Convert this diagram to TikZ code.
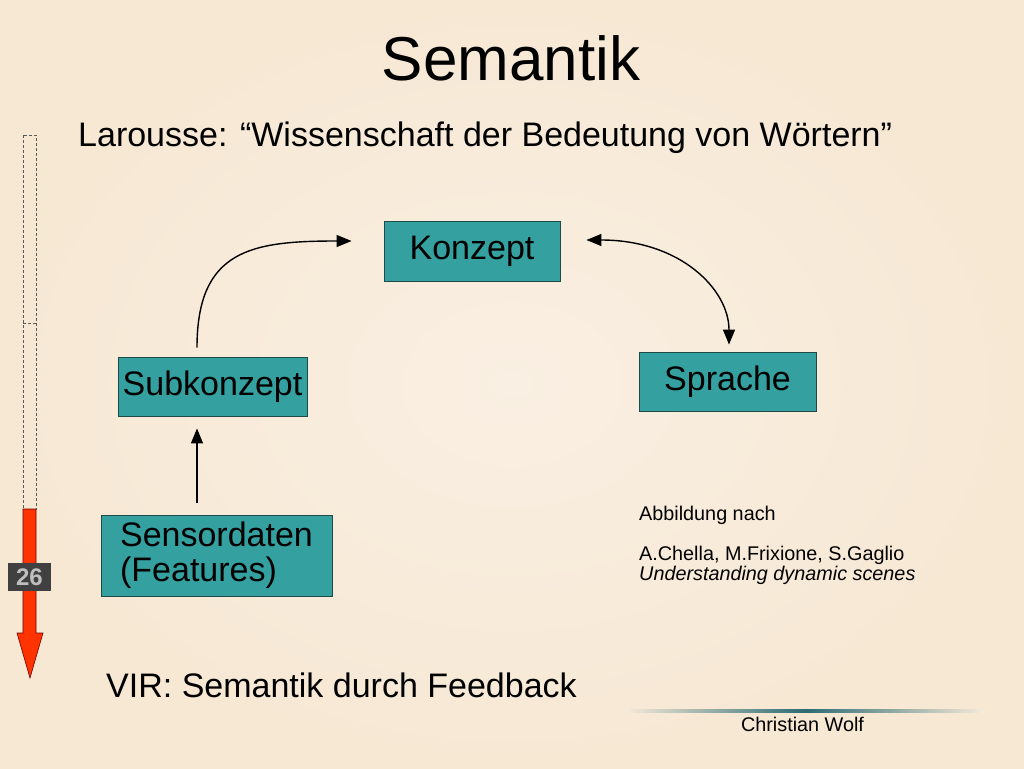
\documentclass[tikz,border=0pt]{standalone}
\usepackage{fontspec}
\setmainfont{Liberation Sans}
\usetikzlibrary{arrows.meta}
\definecolor{bgin}{HTML}{F9EFE2}
\definecolor{bgout}{HTML}{F7E8D4}
\definecolor{bg}{HTML}{F8EBD9}
\definecolor{boxfill}{HTML}{35A0A0}
\definecolor{boxline}{HTML}{1E4A4A}
\definecolor{redarrow}{HTML}{FF3300}
\definecolor{linecol}{HTML}{2C6B72}
\begin{document}
\begin{tikzpicture}[x=1pt,y=-1pt,
  box/.style={draw=boxline, line width=0.9pt, fill=boxfill, inner sep=0pt, text=black,
    font=\fontsize{34}{35}\selectfont},
  conn/.style={line width=1.4pt, -{Triangle[length=15pt,width=12pt]}},
  conn2/.style={line width=1.4pt, {Triangle[length=15pt,width=12pt]}-{Triangle[length=15pt,width=12pt]}},
  bigtext/.style={anchor=base west, inner sep=0pt, font=\fontsize{34}{34}\selectfont},
  smalltext/.style={anchor=base west, inner sep=0pt, font=\fontsize{19.8}{20}\selectfont},
  barline/.style={draw=black!65, line width=0.6pt, dash pattern=on 3pt off 2pt}
]
\useasboundingbox (0,0) rectangle (1024,768);
\shade[inner color=bgin, outer color=bgout] (0,0) rectangle (1024,768);

% title and headings
\node[anchor=base, inner sep=0pt, font=\fontsize{62}{62}\selectfont] (title) at (511,80) {Semantik};
\node[bigtext] (larousse) at (78,146) {Larousse: “Wissenschaft der Bedeutung von Wörtern”};
\node[bigtext] (vir) at (106,697) {VIR: Semantik durch Feedback};

% boxes
\node[box, minimum width=176, minimum height=60] (konzept) at (472,251) {Konzept};
\node[box, minimum width=189, minimum height=59] (sub) at (212.5,386.5) {Subkonzept};
\node[box, minimum width=177, minimum height=59] (sprache) at (727.5,381.5) {Sprache};
\node[box, minimum width=231, minimum height=81, align=left] (sens) at (216.5,555.5) {Sensordaten\\(Features)};

% connectors
\draw[conn] ([shift={(-15.5,-9)}]sub.north) .. controls +(0,-98) and +(-100,0) .. ([shift={(-32,-10)}]konzept.west);
\draw[conn2] ([shift={(26,-11)}]konzept.east) .. controls +(94,0) and +(0,-55) .. ([shift={(1.5,-7)}]sprache.north);
\draw[conn] ([shift={(-19.5,-12)}]sens.north) -- ([shift={(-15.5,12)}]sub.south);

% reference text
\node[smalltext] (abb) at (639,520) {Abbildung nach};
\node[smalltext] (auth) at (639,560) {A.Chella, M.Frixione, S.Gaglio};
\node[smalltext, font=\fontsize{19.8}{20}\selectfont\itshape] (book) at (639,580) {Understanding dynamic scenes};

% footer
\shade[left color=bg, right color=linecol] (625,709) rectangle (805,712);
\shade[left color=linecol, right color=bg] (805,709) rectangle (985,712);
\node[anchor=base, inner sep=0pt, font=\fontsize{19.8}{20}\selectfont] (cw) at (802.5,731) {Christian Wolf};

% left progress bar
\draw[barline] (23,135) rectangle (36,509);
\draw[barline] (23,323) -- (36,323);
\draw[fill=redarrow, draw=red!45!black, line width=0.6pt]
  (23,509) -- (36,509) -- (36,633) -- (43,633) -- (30,678) -- (17,633) -- (23,633) -- cycle;
\node[fill=black!75, minimum width=43, minimum height=28, inner sep=0pt, text=black!25,
  font=\fontsize{24}{24}\selectfont\bfseries] (pagenum) at (29.5,577) {26};
\end{tikzpicture}
\end{document}
